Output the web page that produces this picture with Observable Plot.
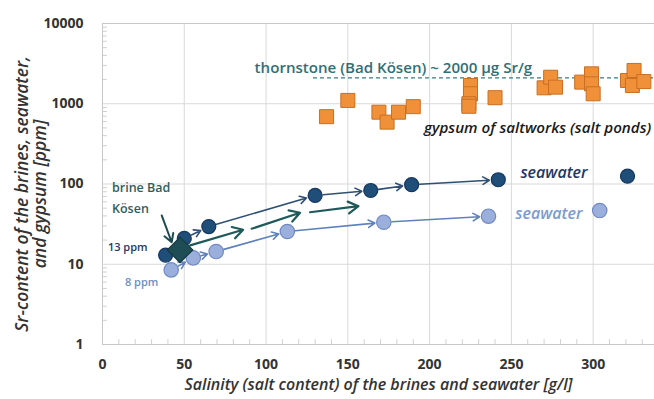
<!DOCTYPE html>
<html><head><meta charset="utf-8">
<script src="https://cdn.jsdelivr.net/npm/d3@7"></script>
<script src="https://cdn.jsdelivr.net/npm/@observablehq/plot@0.6"></script>
<style>body{margin:0;background:#fff;} svg{display:block;}</style>
</head><body><div id="chart"></div>
<script>
// axis ticks
const xTicks = [0, 50, 100, 150, 200, 250, 300];
const yTicks = [1, 10, 100, 1000, 10000];

// dark blue series (brine evaporation starting at 13 ppm)
const darkSalinity = [38.6, 50, 65, 130, 164, 189, 242, 321];
const darkSr       = [13, 21, 29.5, 72, 83, 98, 113, 125];
const darkArrowFrom = [1, 2, 3, 4, 5];

// light blue series (starting at 8 ppm)
const lightSalinity = [42, 55.5, 69.5, 113, 172, 236, 304];
const lightSr       = [8.5, 12, 14.4, 25.6, 33.4, 39.7, 46.7];
const lightArrowFrom = [0, 1, 2, 3, 4];

// brine Bad Kösen
const brineSalinity = [47.4];
const brineSr = [15.1];

// middle trend arrows (no points)
const midX1 = [53.6, 91.2, 126.9];
const midY1 = [17.2, 27.7, 44.5];
const midX2 = [86, 120.8, 156.5];
const midY2 = [26.9, 43.8, 52.9];

// gypsum of saltworks
const gypsumSalinity = [137, 150, 169, 174, 181, 190, 225, 225, 224, 224, 240, 270, 274, 277, 293, 299, 299, 300, 321, 325, 324, 331];
const gypsumSr       = [690, 1100, 785, 590, 785, 920, 1690, 1330, 1000, 930, 1190, 1580, 2140, 1610, 1860, 2360, 1770, 1330, 1950, 2600, 1690, 1890];

// thornstone reference level
const thornX = [129, 337];
const thornSr = 2100;

// annotations
const uprightLabels = [
  {x: 93, y: 2750, text: "thornstone (Bad Kösen) ~ 2000 µg Sr/g", fill: "#2f6f77", size: 15.1},
  {x: 5.8, y: 90.4, text: "brine Bad", fill: "#2e5e5c", size: 12.5},
  {x: 5.8, y: 49.5, text: "Kösen", fill: "#2e5e5c", size: 12.5},
  {x: 3.3, y: 16.2, text: "13 ppm", fill: "#1f3864", size: 11},
  {x: 13.7, y: 5.9, text: "8 ppm", fill: "#6d8ec8", size: 11}
];
const italicLabels = [
  {x: 196.5, y: 492, text: "gypsum of saltworks (salt ponds)", fill: "#1a1a1a", size: 15.2},
  {x: 255.5, y: 139, text: "seawater", fill: "#1f3864", size: 16},
  {x: 252.4, y: 42.9, text: "seawater", fill: "#7b9bd1", size: 16}
];
const brineArrow = {x1: 36.2, y1: 40.6, x2: 42.3, y2: 18.8};

const dark = darkSalinity.map((x, i) => ({x, y: darkSr[i]}));
const light = lightSalinity.map((x, i) => ({x, y: lightSr[i]}));
const brine = brineSalinity.map((x, i) => ({x, y: brineSr[i]}));
const gypsum = gypsumSalinity.map((x, i) => ({x, y: gypsumSr[i]}));
const mid = midX1.map((x, i) => ({x1: x, y1: midY1[i], x2: midX2[i], y2: midY2[i]}));
const darkArrows = darkArrowFrom.map(i => ({x1: dark[i].x, y1: dark[i].y, x2: dark[i+1].x, y2: dark[i+1].y}));
const lightArrows = lightArrowFrom.map(i => ({x1: light[i].x, y1: light[i].y, x2: light[i+1].x, y2: light[i+1].y}));

const minorY = [];
for (const d of [1, 10, 100, 1000]) for (let k = 2; k <= 9; k++) minorY.push(d * k);
const minorX = d3.range(10, 340, 10).filter(v => v % 50 !== 0);

const font = "'Open Sans', Lato, sans-serif";

const chart = Plot.plot({
  width: 654,
  height: 399,
  marginLeft: 102,
  marginRight: 0,
  marginTop: 23,
  marginBottom: 55,
  style: {fontFamily: font, fontSize: "14px", fontWeight: "600", color: "#333", background: "#fff"},
  x: {domain: [0, 337.5], ticks: xTicks},
  y: {type: "log", domain: [1, 10000], ticks: yTicks},
  marks: [
    Plot.ruleX(xTicks.slice(1), {stroke: "#d9d9d9", strokeWidth: 1}),
    Plot.ruleY([10, 100, 1000], {stroke: "#d9d9d9", strokeWidth: 1}),
    Plot.ruleY(minorY, {x1: 0, x2: 3, stroke: "#d0d0d0"}),
    Plot.ruleX(minorX, {y1: 1, y2: 1.15, stroke: "#d0d0d0"}),
    Plot.ruleX([0], {stroke: "#c8c8c8"}),
    Plot.ruleY([1, 10000], {stroke: "#c8c8c8"}),
    Plot.axisX({ticks: xTicks, tickSize: 0, tickPadding: 15, label: null, tickFormat: d => String(d), fill: "#333", fontSize: 14, fontWeight: 700}),
    Plot.axisY({ticks: yTicks, tickSize: 0, tickPadding: 19, label: null, tickFormat: d => String(d), fill: "#333", fontSize: 14, fontWeight: 700}),
    Plot.text(["Sr-content of the brines, seawater,\nand gypsum [ppm]"], {frameAnchor: "left", textAnchor: "middle", lineAnchor: "middle", dx: -71, dy: 10, rotate: -90, fontStyle: "italic", fontWeight: 600, fontSize: 17.5, fill: "#333", lineHeight: 1.02}),
    Plot.text(["Salinity (salt content) of the brines and seawater [g/l]"], {frameAnchor: "bottom", textAnchor: "middle", lineAnchor: "middle", dy: 40, fontStyle: "italic", fontWeight: 600, fontSize: 16, fill: "#333"}),
    // thornstone level
    Plot.ruleY([thornSr], {x1: thornX[0], x2: thornX[1], stroke: "#3b7a80", strokeDasharray: "4,3", strokeWidth: 1.2}),
    // gypsum
    Plot.dot(gypsum, {x: "x", y: "y", symbol: "square", r: 7.9, fill: "#f0913a", stroke: "#c96e22", strokeWidth: 1}),
    // arrows
    Plot.arrow(lightArrows, {x1: "x1", y1: "y1", x2: "x2", y2: "y2", stroke: "#5f82bb", strokeWidth: 1.6, headLength: 7, insetStart: 8, insetEnd: 9}),
    Plot.arrow(mid, {x1: "x1", y1: "y1", x2: "x2", y2: "y2", stroke: "#1f5a5a", strokeWidth: 2.2, headLength: 8}),
    Plot.arrow(darkArrows, {x1: "x1", y1: "y1", x2: "x2", y2: "y2", stroke: "#2f4f75", strokeWidth: 1.6, headLength: 7, insetStart: 8, insetEnd: 9}),
    // points
    Plot.dot(light, {x: "x", y: "y", r: 7.2, fill: "#9aafdc", stroke: "#7189c3", strokeWidth: 1.2}),
    Plot.dot(dark, {x: "x", y: "y", r: 7, fill: "#1f4e79", stroke: "#17375e", strokeWidth: 1.2}),
    Plot.dot(brine, {x: "x", y: "y", symbol: "diamond2", r: 11.5, fill: "#1e4d55", stroke: "#163a40", strokeWidth: 1.2}),
    Plot.arrow([brineArrow], {x1: "x1", y1: "y1", x2: "x2", y2: "y2", stroke: "#1e4b4f", strokeWidth: 2, headLength: 7}),
    // labels
    Plot.text(uprightLabels, {x: "x", y: "y", text: "text", fill: "fill", textAnchor: "start", fontWeight: 600, fontSize: "size"}),
    Plot.text(italicLabels, {x: "x", y: "y", text: "text", fill: "fill", textAnchor: "start", fontWeight: 600, fontStyle: "italic", fontSize: "size"})
  ]
});
document.getElementById("chart").appendChild(chart);
</script>
</body></html>
